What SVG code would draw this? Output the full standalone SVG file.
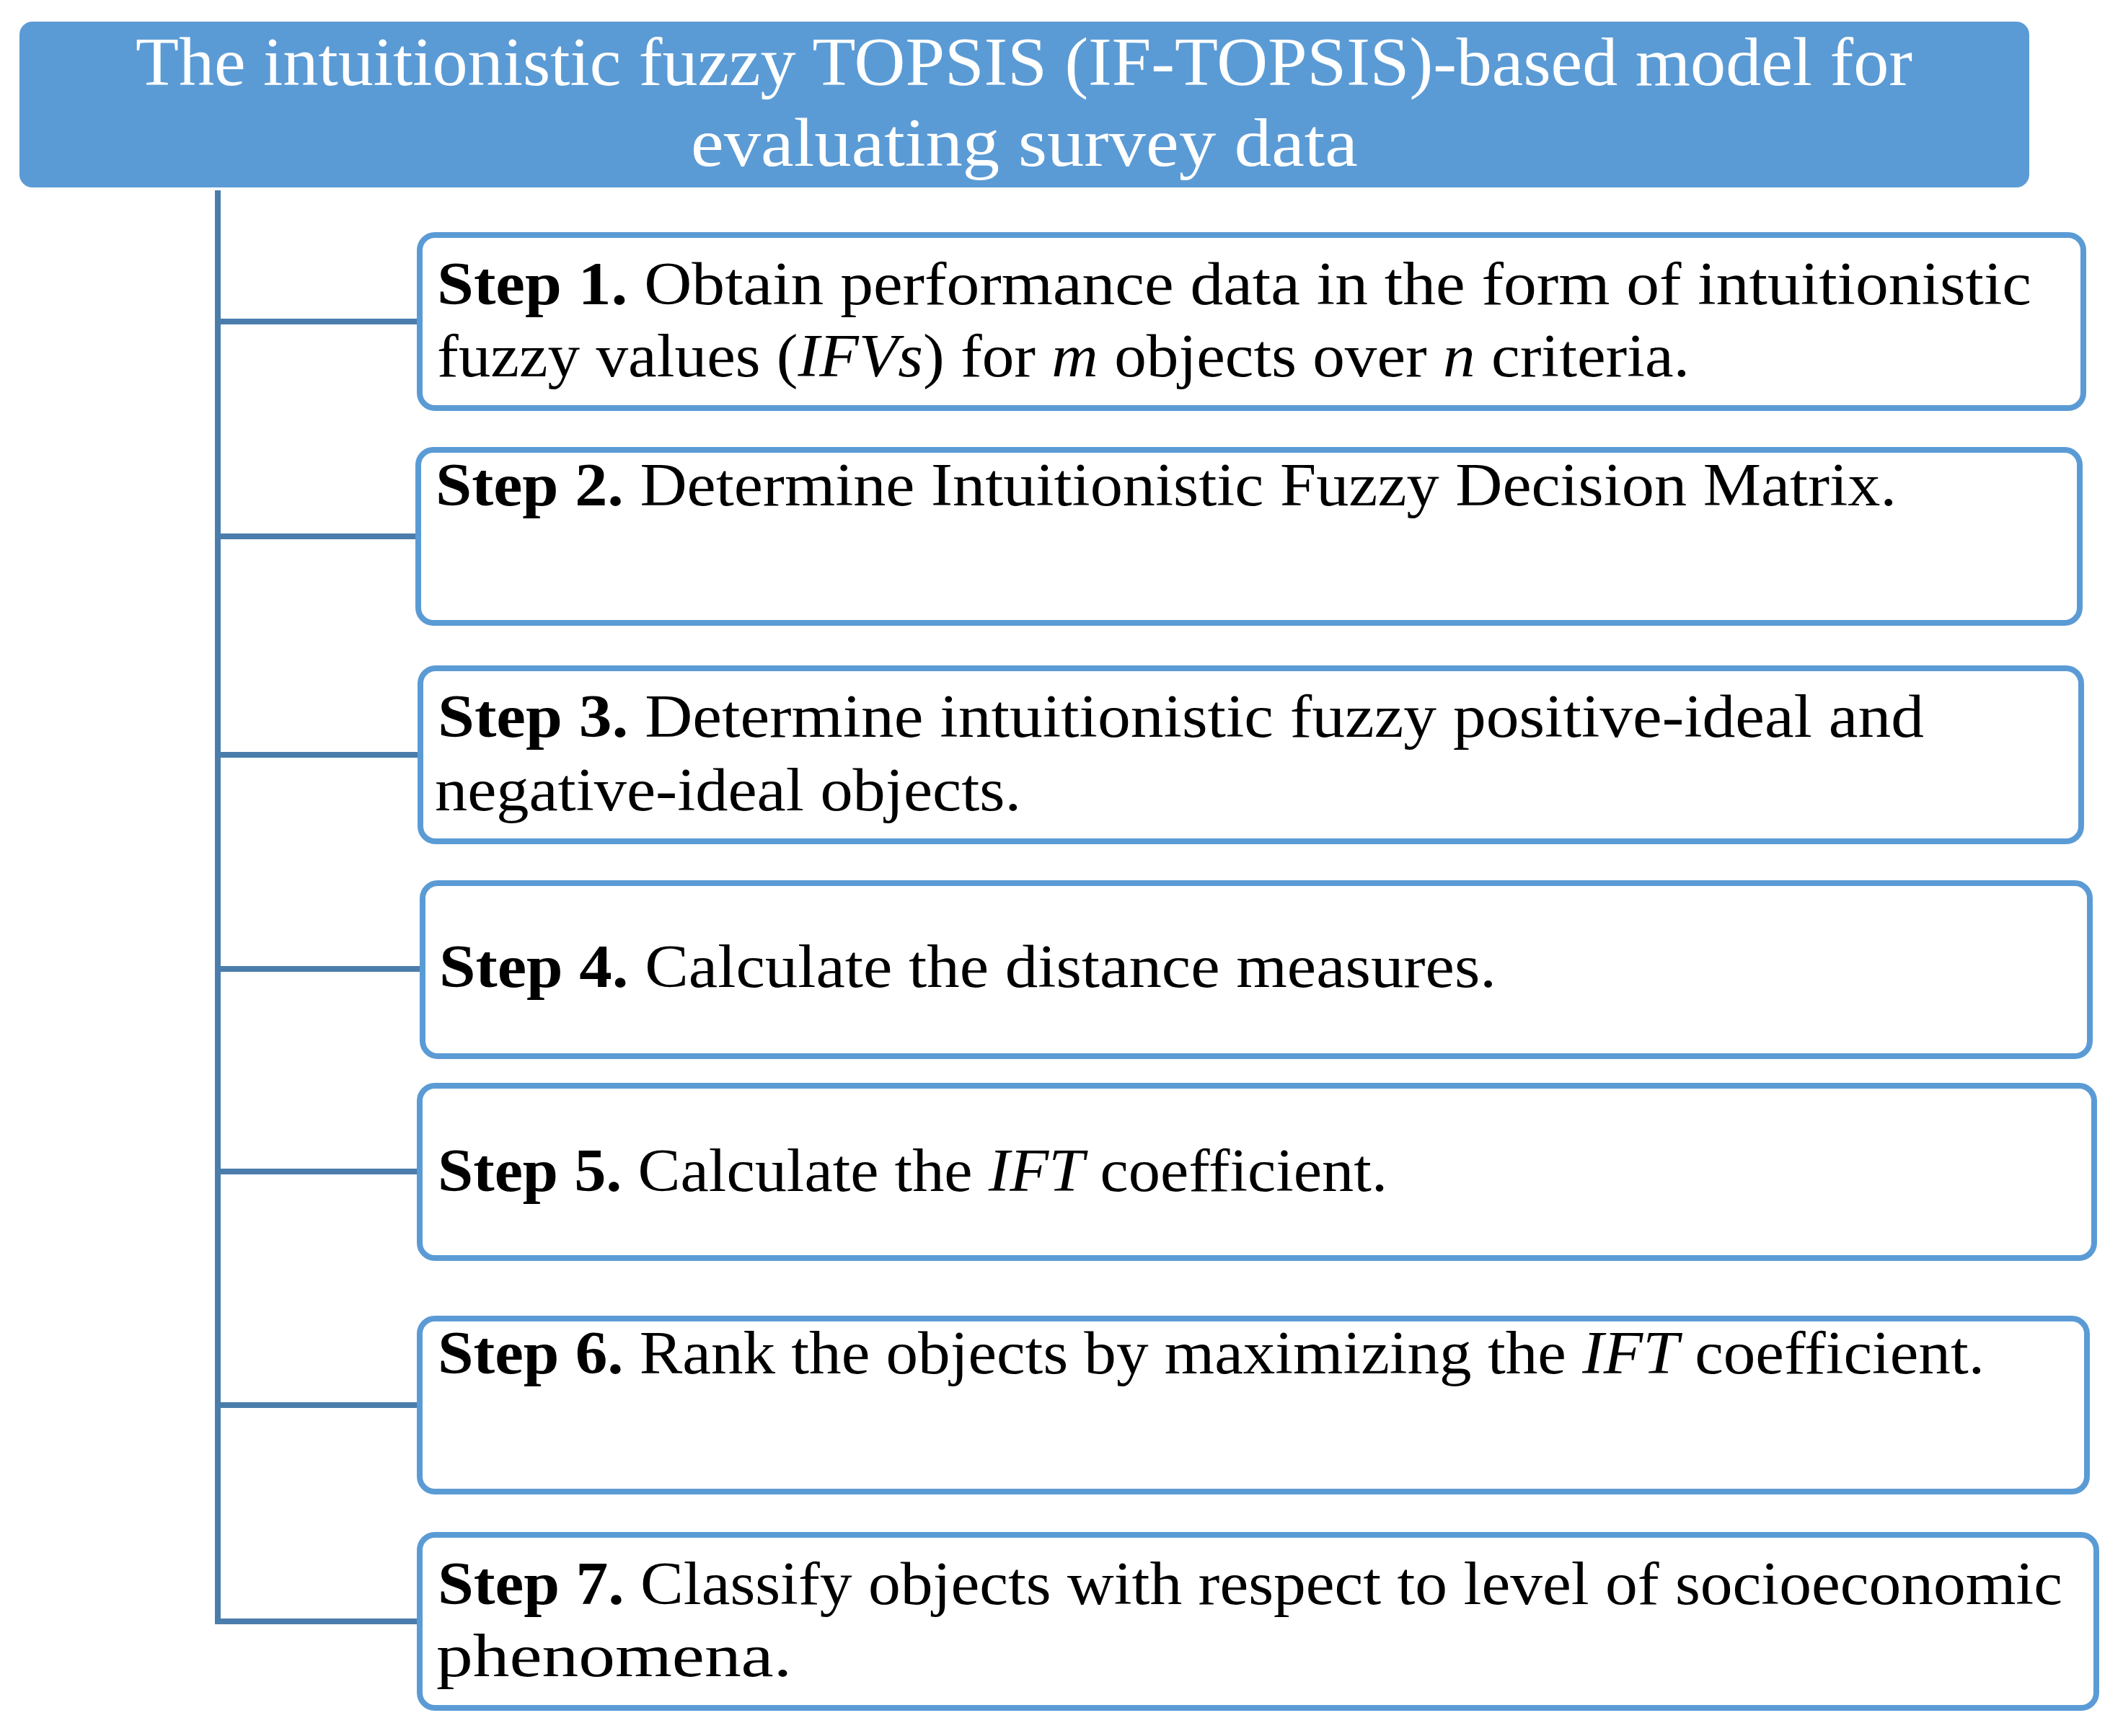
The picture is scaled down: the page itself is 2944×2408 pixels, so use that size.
<svg xmlns="http://www.w3.org/2000/svg" width="2944" height="2408" viewBox="0 0 2944 2408">
<style>
.step{fill:#ffffff;stroke:#5B9BD5;stroke-width:8}
.conn{fill:none;stroke:#4A7DAC;stroke-width:8;stroke-linejoin:miter;stroke-linecap:butt}
.t{font-family:"Liberation Serif","Times New Roman",serif;font-size:84px;fill:#000}
.tt{font-family:"Liberation Serif","Times New Roman",serif;font-size:95px;fill:#ffffff}
.b{font-weight:bold}
.i{font-style:italic}
</style>
<rect width="2944" height="2408" fill="#ffffff"/>
<g id="title">
<rect x="27" y="30" width="2787" height="230" rx="18" fill="#5B9BD5"/>
<text class="tt" x="188" y="118" textLength="2464" lengthAdjust="spacingAndGlyphs">The intuitionistic fuzzy TOPSIS (IF-TOPSIS)-based model for</text>
<text class="tt" x="958" y="230" textLength="925" lengthAdjust="spacingAndGlyphs">evaluating survey data</text>
</g>
<g id="connectors">
<path class="conn" d="M302,264 V2249 H582"/>
<path class="conn" d="M302,446 H582"/>
<path class="conn" d="M302,744 H580"/>
<path class="conn" d="M302,1047 H583"/>
<path class="conn" d="M302,1344 H586"/>
<path class="conn" d="M302,1625 H582"/>
<path class="conn" d="M302,1949 H582"/>
</g>
<g id="step1">
<rect class="step" x="582" y="326" width="2307" height="240" rx="21"/>
<text class="t" x="606" y="422" textLength="2211" lengthAdjust="spacingAndGlyphs"><tspan class="b">Step 1.</tspan> Obtain performance data in the form of intuitionistic</text>
<text class="t" x="606" y="522" textLength="1737" lengthAdjust="spacingAndGlyphs">fuzzy values (<tspan class="i">IFVs</tspan>) for <tspan class="i">m</tspan> objects over <tspan class="i">n</tspan> criteria.</text>
</g>
<g id="step2">
<rect class="step" x="580" y="624" width="2304" height="240" rx="21"/>
<text class="t" x="604" y="701" textLength="2026" lengthAdjust="spacingAndGlyphs"><tspan class="b">Step 2.</tspan> Determine Intuitionistic Fuzzy Decision Matrix.</text>
</g>
<g id="step3">
<rect class="step" x="583" y="927" width="2303" height="240" rx="21"/>
<text class="t" x="607" y="1022" textLength="2061" lengthAdjust="spacingAndGlyphs"><tspan class="b">Step 3.</tspan> Determine intuitionistic fuzzy positive-ideal and</text>
<text class="t" x="603" y="1124" textLength="813" lengthAdjust="spacingAndGlyphs">negative-ideal objects.</text>
</g>
<g id="step4">
<rect class="step" x="586" y="1225" width="2312" height="240" rx="21"/>
<text class="t" x="609" y="1369" textLength="1466" lengthAdjust="spacingAndGlyphs"><tspan class="b">Step 4.</tspan> Calculate the distance measures.</text>
</g>
<g id="step5">
<rect class="step" x="582" y="1506" width="2322" height="239" rx="21"/>
<text class="t" x="607" y="1652" textLength="1317" lengthAdjust="spacingAndGlyphs"><tspan class="b">Step 5.</tspan> Calculate the <tspan class="i">IFT</tspan> coefficient.</text>
</g>
<g id="step6">
<rect class="step" x="582" y="1829" width="2312" height="240" rx="21"/>
<text class="t" x="607" y="1905" textLength="2145" lengthAdjust="spacingAndGlyphs"><tspan class="b">Step 6.</tspan> Rank the objects by maximizing the <tspan class="i">IFT</tspan> coefficient.</text>
</g>
<g id="step7">
<rect class="step" x="582" y="2129" width="2325" height="240" rx="21"/>
<text class="t" x="607" y="2225" textLength="2253" lengthAdjust="spacingAndGlyphs"><tspan class="b">Step 7.</tspan> Classify objects with respect to level of socioeconomic</text>
<text class="t" x="605" y="2325" textLength="493" lengthAdjust="spacingAndGlyphs">phenomena.</text>
</g>
</svg>
